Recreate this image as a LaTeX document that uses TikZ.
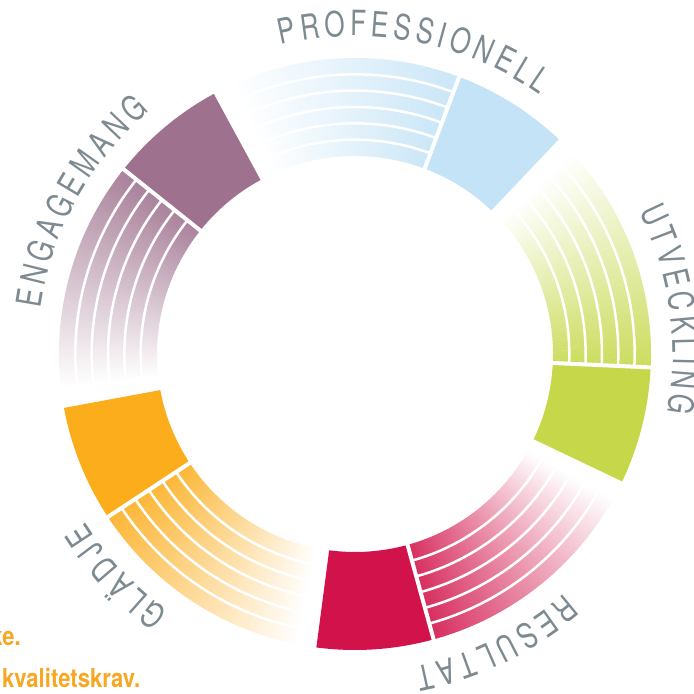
\documentclass[tikz,border=0pt]{standalone}
\usepackage{fontspec}
\usetikzlibrary{decorations.text}
\newfontfamily\lblface[FakeStretch=0.75,WordSpace=0.62]{TeX Gyre Heros}
\newfontfamily\noteface[FakeStretch=0.85]{TeX Gyre Heros}
\newcommand\lblfont{\lblface\fontsize{34.8}{36}\selectfont}
\definecolor{cBlue}{HTML}{C4E3F6}
\definecolor{cGreen}{HTML}{C6D84A}
\definecolor{cRed}{HTML}{D2124A}
\definecolor{cOrange}{HTML}{FBAD1C}
\definecolor{cPurple}{HTML}{9E718E}
\definecolor{lblgray}{HTML}{7D8A91}
\definecolor{noteorange}{HTML}{F7A823}
\tikzset{
  note/.style={font=\noteface\bfseries\fontsize{26}{28}\selectfont, text=noteorange, inner sep=0pt},
  sepline/.style={white, line width=4pt},
  bandline/.style={white, line width=2.5pt},
  arctext/.style={decoration={text along path, text={|\lblfont|#1}, text align=center, text color=lblgray}, decorate}
}
\begin{document}
\begin{tikzpicture}[x=1pt,y=1pt]
\useasboundingbox (0,0) rectangle (694,694);
\begin{scope}[shift={(355,340)}]
  \def\Rin{198}
  \def\Rout{296}
  \foreach \k/\col in {0/cBlue,1/cGreen,2/cRed,3/cOrange,4/cPurple}{
    \pgfmathsetmacro\bs{46.5-72*\k}
    \pgfmathsetmacro\be{69.4-72*\k}
    % fading striped part
    \foreach \j in {0,...,89}{
      \pgfmathsetmacro\a{\be+0.5*\j}
      \pgfmathsetmacro\b{\a+0.6}
      \pgfmathsetmacro\p{88*(1-\j/90)}
      \fill[\col!\p] (\a:\Rin) arc[start angle=\a,end angle=\b,radius=\Rin]
        -- (\b:\Rout) arc[start angle=\b,end angle=\a,radius=\Rout] -- cycle;
    }
    \foreach \m in {1,...,5}{
      \pgfmathsetmacro\r{\Rin+\m*(\Rout-\Rin)/6}
      \pgfmathsetmacro\ee{\be+46}
      \draw[bandline] (\be:\r) arc[start angle=\be,end angle=\ee,radius=\r];
    }
    % solid block
    \fill[\col] (\bs:\Rin) arc[start angle=\bs,end angle=\be,radius=\Rin]
      -- (\be:\Rout) arc[start angle=\be,end angle=\bs,radius=\Rout] -- cycle;
    \pgfmathsetmacro\ri{\Rin-3}
    \pgfmathsetmacro\ro{\Rout+3}
    \draw[sepline] (\be:\ri) -- (\be:\ro);
  }
  % curved labels (clockwise, tops outward)
  \path[arctext={P R O F E S S I O N E L L}] (119:318) arc[start angle=119,end angle=39,radius=318];
  \path[arctext={U T V E C K L I N G}] (48:318) arc[start angle=48,end angle=-32,radius=318];
  \path[arctext={R E S U L T A T}] (-24:318) arc[start angle=-24,end angle=-104,radius=318];
  \path[arctext={G L Ä D J E}] (263:318) arc[start angle=263,end angle=183,radius=318];
  \path[arctext={E N G A G E M A N G}] (191:318) arc[start angle=191,end angle=111,radius=318];
\end{scope}
\node[note,anchor=base east] (n1) at (21,48) {ke.};
\node[note,anchor=base west] (n2) at (2,6) {kvalitetskrav.};
\end{tikzpicture}
\end{document}
